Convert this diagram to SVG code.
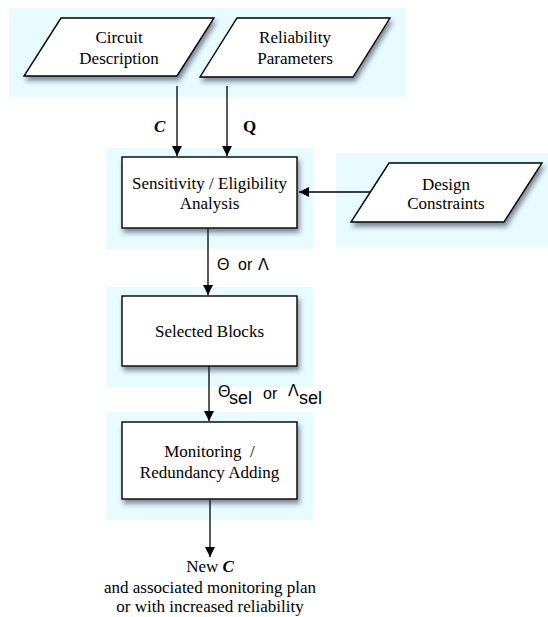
<svg xmlns="http://www.w3.org/2000/svg" width="548" height="617" viewBox="0 0 548 617">
<defs>
<filter id="sh" x="-20%" y="-20%" width="150%" height="160%">
<feDropShadow dx="2" dy="4" stdDeviation="2.5" flood-color="#1a2a40" flood-opacity="0.55"/>
</filter>
<marker id="ah" markerWidth="10" markerHeight="10" viewBox="0 0 10 10" refX="10" refY="5" orient="auto" markerUnits="userSpaceOnUse">
<path d="M0,0 L10,5 L0,10 Z" fill="#000"/>
</marker>
</defs>
<style>
.bg{fill:#E8FCFF}
.shape{fill:#fff;stroke:#000;stroke-width:1.4;filter:url(#sh)}
.t{font-family:"Liberation Serif","Times New Roman",serif;font-size:17px;fill:#000;text-anchor:middle}
.s{font-family:"Liberation Sans",Arial,sans-serif;font-size:16px;fill:#000}
.sub{font-size:18px}
.c{stroke:#000;stroke-width:1.3;fill:none;marker-end:url(#ah)}
</style>
<rect class="bg" x="9" y="8" width="397" height="89"/>
<rect class="bg" x="106" y="148" width="207" height="101"/>
<rect class="bg" x="336" y="153" width="212" height="94"/>
<rect class="bg" x="106" y="287" width="207" height="100"/>
<rect class="bg" x="106" y="412" width="207" height="108"/>
<g id="connectors">
<line class="c" x1="177" y1="86" x2="177" y2="156"/>
<line class="c" x1="227" y1="86" x2="227" y2="156"/>
<line class="c" x1="370" y1="192" x2="299" y2="192"/>
<line class="c" x1="208" y1="228" x2="208" y2="295"/>
<line class="c" x1="209" y1="366" x2="209" y2="421"/>
<line class="c" x1="210" y1="499" x2="210" y2="557"/>
<text x="154" y="132" style="font-family:'Liberation Serif',serif;font-size:17px;font-weight:bold;font-style:italic">C</text>
<text x="243" y="132" style="font-family:'Liberation Serif',serif;font-size:17px;font-weight:bold">Q</text>
<text class="s" x="217" y="270">Θ<tspan x="238">or</tspan><tspan x="258">Λ</tspan></text>
<text class="s" x="218" y="397">Θ<tspan class="sub" x="229" y="404">sel</tspan><tspan x="263" y="399">or</tspan><tspan x="288" y="396">Λ</tspan><tspan class="sub" x="299" y="404">sel</tspan></text>
</g>
<g id="circuit">
<polygon class="shape" points="61,18 214,18 177,76 24,76"/>
<text class="t" x="119" y="43">Circuit</text>
<text class="t" x="119" y="64">Description</text>
</g>
<g id="reliability">
<polygon class="shape" points="237,18 390,18 353,77 200,77"/>
<text class="t" x="295" y="43">Reliability</text>
<text class="t" x="295" y="64">Parameters</text>
</g>
<g id="sensitivity">
<rect class="shape" x="122" y="157" width="175" height="71"/>
<text class="t" x="209.5" y="189">Sensitivity / Eligibility</text>
<text class="t" x="209.5" y="209">Analysis</text>
</g>
<g id="design">
<polygon class="shape" points="389,163 542,163 504,222 351,222"/>
<text class="t" x="446" y="190">Design</text>
<text class="t" x="446" y="209">Constraints</text>
</g>
<g id="selected">
<rect class="shape" x="122" y="296" width="175" height="70"/>
<text class="t" x="209.5" y="337">Selected Blocks</text>
</g>
<g id="monitoring">
<rect class="shape" x="122" y="422" width="175" height="77"/>
<text class="t" x="209.5" y="457" xml:space="preserve">Monitoring  /</text>
<text class="t" x="209.5" y="478">Redundancy Adding</text>
</g>
<g id="output">
<text class="t" x="210" y="572">New <tspan style="font-weight:bold;font-style:italic">C</tspan></text>
<text class="t" x="210" y="593">and associated monitoring plan</text>
<text class="t" x="210" y="612">or with increased reliability</text>
</g>
</svg>
